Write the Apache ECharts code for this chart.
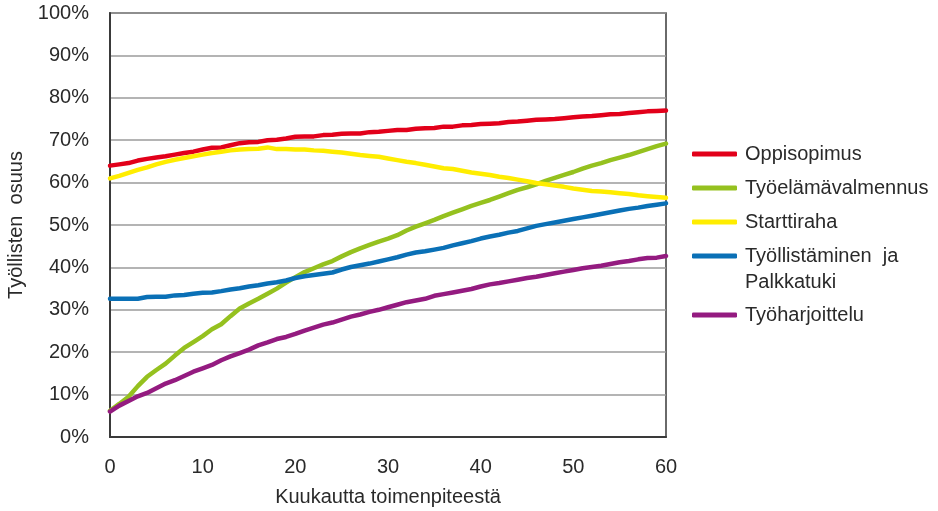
<!DOCTYPE html>
<html>
<head>
<meta charset="utf-8">
<script src="https://cdn.jsdelivr.net/npm/echarts@6/dist/echarts.min.js"></script>
<style>
  html, body { margin: 0; padding: 0; background: #fff; }
  #chart { width: 938px; height: 511px; }
</style>
</head>
<body>
<div id="chart"></div>
<script>
// Months after the measure (0–60)
const months = Array.from({ length: 61 }, (_, i) => i);

// Share employed (%) by measure type, one value per month
const oppisopimus = [
  64.0, 64.3, 64.6, 65.2, 65.6, 65.9, 66.2, 66.6, 67.0, 67.3,
  67.8, 68.2, 68.3, 68.8, 69.3, 69.5, 69.6, 70.0, 70.1, 70.4,
  70.8, 70.9, 70.9, 71.2, 71.3, 71.5, 71.6, 71.6, 71.9, 72.0,
  72.2, 72.4, 72.4, 72.7, 72.8, 72.9, 73.2, 73.2, 73.5, 73.6,
  73.8, 73.9, 74.0, 74.3, 74.4, 74.6, 74.8, 74.9, 75.0, 75.2,
  75.4, 75.6, 75.7, 75.9, 76.1, 76.2, 76.4, 76.6, 76.8, 76.9,
  77.0
];
const tyoelamavalmennus = [
  6.2, 7.8, 9.5, 12.0, 14.2, 15.8, 17.3, 19.2, 21.0, 22.4,
  23.8, 25.4, 26.6, 28.5, 30.3, 31.5, 32.6, 33.8, 35.0, 36.4,
  37.7, 38.9, 39.8, 40.7, 41.5, 42.6, 43.6, 44.5, 45.3, 46.1,
  46.8, 47.6, 48.7, 49.6, 50.4, 51.2, 52.1, 52.9, 53.7, 54.5,
  55.2, 55.9, 56.7, 57.5, 58.3, 58.9, 59.6, 60.4, 61.1, 61.8,
  62.5, 63.3, 64.0, 64.6, 65.3, 65.9, 66.5, 67.2, 67.9, 68.6,
  69.2
];
const starttiraha = [
  61.0, 61.6, 62.3, 63.0, 63.6, 64.3, 64.9, 65.4, 65.8, 66.2,
  66.6, 67.0, 67.3, 67.6, 67.8, 67.9, 68.0, 68.3, 67.9, 67.9,
  67.8, 67.8, 67.6, 67.5, 67.3, 67.1, 66.8, 66.5, 66.3, 66.1,
  65.7, 65.3, 64.9, 64.6, 64.2, 63.8, 63.4, 63.2, 62.8, 62.4,
  62.1, 61.8, 61.4, 61.1, 60.7, 60.3, 59.9, 59.6, 59.3, 59.0,
  58.6, 58.3, 58.0, 57.9, 57.7, 57.5, 57.3, 57.0, 56.8, 56.6,
  56.4
];
const tyollistaminen = [
  32.6, 32.6, 32.6, 32.6, 33.0, 33.1, 33.1, 33.4, 33.5, 33.8,
  34.0, 34.1, 34.4, 34.8, 35.1, 35.5, 35.8, 36.2, 36.5, 36.9,
  37.5, 37.9, 38.2, 38.5, 38.8, 39.5, 40.1, 40.5, 40.9, 41.4,
  41.9, 42.4, 43.0, 43.5, 43.8, 44.2, 44.6, 45.2, 45.7, 46.2,
  46.8, 47.3, 47.7, 48.2, 48.6, 49.2, 49.8, 50.2, 50.6, 51.0,
  51.4, 51.8, 52.2, 52.6, 53.0, 53.4, 53.8, 54.1, 54.5, 54.8,
  55.1
];
const tyoharjoittelu = [
  6.0, 7.4, 8.5, 9.6, 10.4, 11.5, 12.6, 13.4, 14.4, 15.4,
  16.2, 17.0, 18.1, 19.0, 19.8, 20.6, 21.6, 22.3, 23.1, 23.6,
  24.3, 25.1, 25.8, 26.5, 27.0, 27.7, 28.4, 28.9, 29.5, 30.0,
  30.6, 31.2, 31.8, 32.2, 32.6, 33.3, 33.7, 34.1, 34.5, 34.9,
  35.5, 36.0, 36.3, 36.7, 37.1, 37.5, 37.8, 38.2, 38.6, 39.0,
  39.4, 39.8, 40.1, 40.4, 40.8, 41.2, 41.5, 41.9, 42.2, 42.3,
  42.7
];

const seriesNames = [
  'Oppisopimus',
  'Työelämävalmennus',
  'Starttiraha',
  'Työllistäminen  ja',
  'Työharjoittelu'
];
const seriesValues = [oppisopimus, tyoelamavalmennus, starttiraha, tyollistaminen, tyoharjoittelu];
const seriesColors = ['#e2001a', '#95c11f', '#ffed00', '#0a70b6', '#941b80'];

const FONT = '"Liberation Sans", Arial, sans-serif';
const TEXT = '#2a2a2a';

const chart = echarts.init(document.getElementById('chart'), null, { renderer: 'canvas' });

const series = seriesNames.map((name, k) => ({
  name,
  type: 'line',
  data: months.map((m, i) => [m, seriesValues[k][i]]),
  showSymbol: false,
  symbol: 'none',
  lineStyle: { color: seriesColors[k], width: 4.5, cap: 'round', join: 'round' },
  itemStyle: { color: seriesColors[k] },
  animation: false
}));

const legendBase = {
  orient: 'vertical',
  left: 692,
  padding: 0,
  icon: 'roundRect',
  itemWidth: 45,
  itemHeight: 5,
  itemGap: 14,
  selectedMode: false,
  textStyle: { fontFamily: FONT, fontSize: 20, lineHeight: 20, color: TEXT, padding: [0, 0, 0, 3] }
};

chart.setOption({
  backgroundColor: '#ffffff',
  animation: false,
  grid: {
    left: 110, right: 272, top: 13, bottom: 74,
    containLabel: false,
    outerBoundsMode: 'none',
    show: true, borderColor: '#3a3a3a', borderWidth: 1.5, backgroundColor: 'transparent'
  },
  legend: [
    Object.assign({}, legendBase, { top: 144, data: seriesNames.slice(0, 4) }),
    Object.assign({}, legendBase, { top: 305, data: seriesNames.slice(4) })
  ],
  graphic: [{
    type: 'text',
    left: 745,
    top: 272,
    style: { text: 'Palkkatuki', font: '20px ' + FONT, fill: TEXT }
  }],
  xAxis: {
    type: 'value',
    min: 0, max: 60, interval: 10,
    name: 'Kuukautta toimenpiteestä',
    nameLocation: 'middle',
    nameGap: 50,
    nameTextStyle: { fontFamily: FONT, fontSize: 20, color: TEXT },
    axisLine: { lineStyle: { color: '#3a3a3a', width: 2 } },
    axisTick: { show: false },
    splitLine: { show: false },
    axisLabel: { margin: 20, fontFamily: FONT, fontSize: 20, color: TEXT }
  },
  yAxis: {
    type: 'value',
    min: 0, max: 100, interval: 10,
    name: 'Työllisten  osuus',
    nameLocation: 'middle',
    nameGap: 81,
    nameTextStyle: { fontFamily: FONT, fontSize: 20, color: TEXT },
    axisLine: { show: true, lineStyle: { color: '#3a3a3a', width: 2 } },
    axisTick: { show: false },
    splitLine: { lineStyle: { color: '#9b9b9b', width: 1.5 } },
    axisLabel: {
      margin: 21, padding: [4, 0, 0, 0], formatter: '{value}%',
      fontFamily: FONT, fontSize: 20, color: TEXT
    }
  },
  series
});
</script>
</body>
</html>
